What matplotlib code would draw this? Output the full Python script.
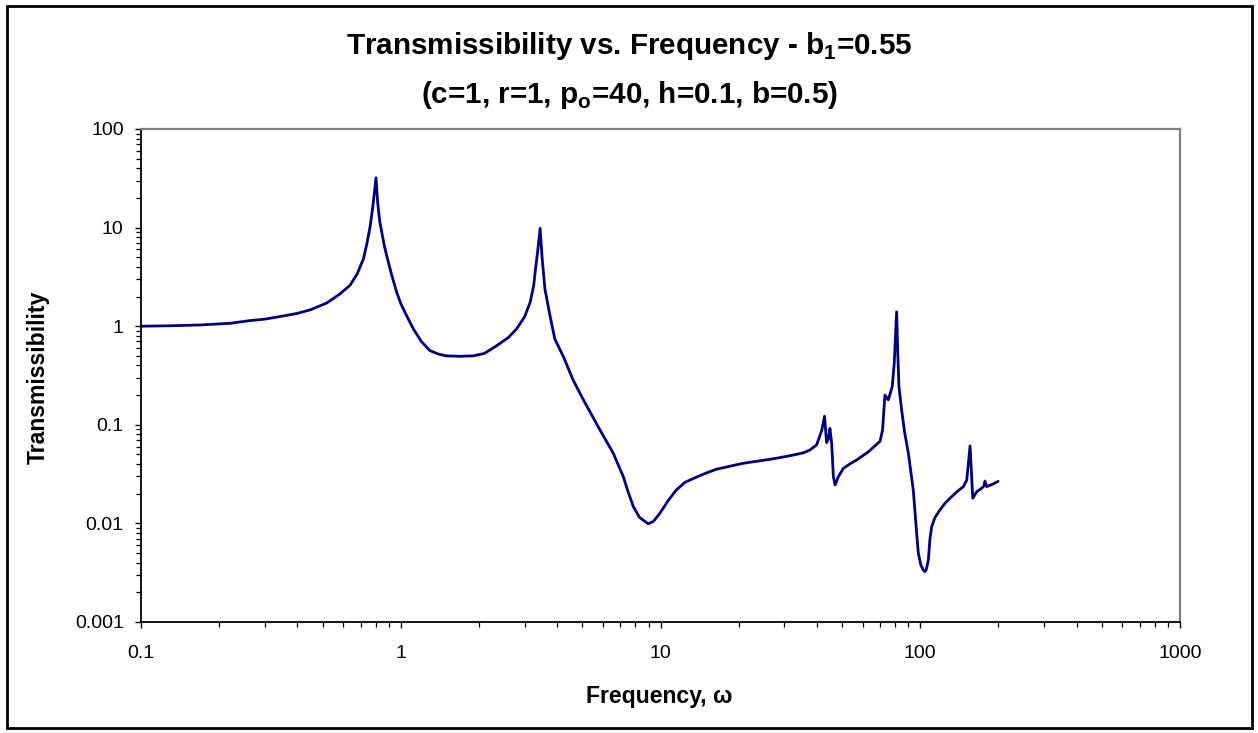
import matplotlib
matplotlib.use("Agg")
import matplotlib.pyplot as plt
from matplotlib.ticker import FixedLocator, FixedFormatter, LogLocator, NullFormatter
from matplotlib.patches import Rectangle

plt.rcParams['font.family'] = ['Liberation Sans', 'DejaVu Sans']
plt.rcParams['mathtext.fontset'] = 'custom'
plt.rcParams['mathtext.rm'] = 'Liberation Sans:bold'
plt.rcParams['mathtext.bf'] = 'Liberation Sans:bold'

omega = [0.1, 0.13, 0.17, 0.22, 0.263, 0.30, 0.353, 0.40, 0.45, 0.519, 0.58, 0.638, 0.68, 0.718,
         0.74, 0.762, 0.78, 0.803, 0.815, 0.83, 0.845, 0.865, 0.883, 0.92, 0.965, 1.0, 1.05,
         1.118, 1.2, 1.296, 1.4, 1.5, 1.69, 1.9, 2.1, 2.34, 2.6, 2.79, 3.0, 3.15, 3.25, 3.29,
         3.36, 3.44, 3.5, 3.59, 3.75, 3.92, 4.23, 4.61, 5.05, 5.85, 6.58, 7.19, 7.5, 7.86, 8.3,
         8.97, 9.4, 9.95, 10.7, 11.5, 12.4, 13.4, 14.8, 16.4, 18.5, 20.8, 23.5, 26.4, 29.5, 32.5,
         35.5, 37.6, 39.9, 41.8, 42.8, 43.6, 44.3, 44.9, 45.6, 46.3, 47.0, 48.4, 50.6, 53.5,
         56.9, 63.0, 70.0, 71.6, 73.1, 75.3, 78.0, 79.4, 81.1, 82.0, 82.8, 84.8, 87.0, 90.0,
         94.0, 96.9, 98.3, 100.5, 102.5, 104.2, 105.5, 107.5, 109.0, 110.7, 114.0, 119.1, 124.0,
         130.2, 138.0, 146.5, 151.0, 155.5, 159.3, 165.0, 172.3, 175.5, 177.5, 180.2, 190.0,
         199.5]
transmissibility = [1.0, 1.01, 1.03, 1.07, 1.14, 1.18, 1.27, 1.35, 1.47, 1.72, 2.1, 2.6, 3.4, 4.8,
                    6.8, 10.2, 16.0, 32.0, 18.0, 11.5, 9.0, 6.5, 5.2, 3.4, 2.2, 1.7, 1.3,
                    0.94, 0.7, 0.565, 0.52, 0.50, 0.495, 0.5, 0.53, 0.634, 0.77, 0.937, 1.25, 1.75,
                    2.6, 3.5, 5.5, 9.8, 5.0, 2.38, 1.3, 0.74, 0.49, 0.284, 0.179, 0.0885, 0.0514,
                    0.0298, 0.021, 0.0148, 0.0115, 0.0099, 0.0105, 0.0127, 0.017, 0.0218, 0.026,
                    0.0286, 0.032, 0.0354, 0.038, 0.0407, 0.0427, 0.0447, 0.047, 0.0494, 0.052,
                    0.0555, 0.0625, 0.0885, 0.122, 0.066, 0.072, 0.092, 0.065, 0.0298, 0.0245,
                    0.0298, 0.0362, 0.040, 0.044, 0.053, 0.068, 0.0885, 0.2, 0.179, 0.243, 0.42,
                    1.40, 0.5, 0.243, 0.141, 0.085, 0.0514, 0.0218, 0.0079, 0.005, 0.0038, 0.0034,
                    0.00324, 0.0034, 0.0043, 0.007, 0.0093, 0.0115, 0.0137, 0.0158, 0.018, 0.0208,
                    0.0236, 0.0275, 0.061, 0.018, 0.021, 0.0227, 0.0238, 0.0269, 0.0236, 0.025,
                    0.0267]

x_ticks = [0.1, 1, 10, 100, 1000]
x_tick_labels = ["0.1", "1", "10", "100", "1000"]
y_ticks = [0.001, 0.01, 0.1, 1, 10, 100]
y_tick_labels = ["0.001", "0.01", "0.1", "1", "10", "100"]

W, H = 1258, 733
fig = plt.figure(figsize=(W / 100, H / 100), dpi=100)
fig.patch.set_facecolor('white')

ax = fig.add_axes([141 / W, 1 - 622 / H, (1180 - 141) / W, (622 - 129) / H])
ax.plot(omega, transmissibility, color='#000080', linewidth=2.0,
        solid_joinstyle='round', solid_capstyle='round')
ax.set_xscale('log')
ax.set_yscale('log')
ax.set_xlim(0.1, 1000)
ax.set_ylim(0.001, 100)

ax.xaxis.set_major_locator(FixedLocator(x_ticks))
ax.xaxis.set_major_formatter(FixedFormatter(x_tick_labels))
ax.yaxis.set_major_locator(FixedLocator(y_ticks))
ax.yaxis.set_major_formatter(FixedFormatter(y_tick_labels))
ax.xaxis.set_minor_locator(LogLocator(base=10, subs=range(2, 10), numticks=20))
ax.yaxis.set_minor_locator(LogLocator(base=10, subs=range(2, 10), numticks=20))
ax.xaxis.set_minor_formatter(NullFormatter())
ax.yaxis.set_minor_formatter(NullFormatter())

ax.tick_params(which='major', direction='out', length=4.5, width=1.0, colors='black',
               labelsize=14, pad=8)
ax.tick_params(which='minor', direction='out', length=3.5, width=0.9, colors='black')
ax.tick_params(axis='x', which='major', pad=12)

for s in ['left', 'bottom']:
    ax.spines[s].set_color('black')
    ax.spines[s].set_linewidth(1.3)
for s in ['top', 'right']:
    ax.spines[s].set_color('#808080')
    ax.spines[s].set_linewidth(1.6)

fig.text(629 / W, 1 - 46 / H, r'Transmissibility vs. Frequency - b$_\mathrm{1}$=0.55',
         ha='center', va='center', fontsize=21.3, fontweight='bold')
fig.text(629 / W, 1 - 95 / H, r'(c=1, r=1, p$_\mathrm{o}$=40, h=0.1, b=0.5)',
         ha='center', va='center', fontsize=21.3, fontweight='bold')

fig.text(38 / W, 1 - 377 / H, 'Transmissibility', rotation=90, ha='center', va='center',
         fontsize=16.6, fontweight='bold')
fig.text(659 / W, 1 - 696 / H, 'Frequency, \u03c9', ha='center', va='center',
         fontsize=16.6, fontweight='bold')

fig.add_artist(Rectangle((7 / W, 5 / H), 1245 / W, 722 / H, transform=fig.transFigure,
                         fill=False, edgecolor='black', linewidth=2.0))

fig.savefig('out.png', dpi=100, facecolor='white')
